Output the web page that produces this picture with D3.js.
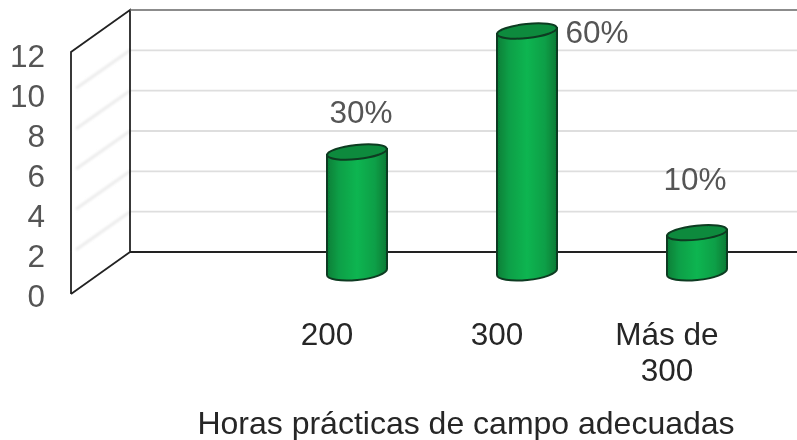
<!DOCTYPE html>
<html><head><meta charset="utf-8">
<script src="https://cdn.jsdelivr.net/npm/d3@7"></script>
<style>html,body{margin:0;padding:0;background:#fff}svg{display:block}text{font-family:"Liberation Sans",Arial,sans-serif}</style>
</head><body><svg id="c" width="797" height="440"></svg>
<script>
const categories = ["200","300","Más de|300"];
const values = [6,12,2];
const percentLabels = ["30%","60%","10%"];
const yTicks = [0,2,4,6,8,10,12];
const axisTitle = "Horas prácticas de campo adecuadas";

const svg = d3.select("#c");
const depthX = 59, depthY = -42;
const y = d3.scaleLinear().domain([0,12]).range([294,52]);
const tickY = d3.scaleLinear().domain([0,12]).range([307,67]);
const x = d3.scalePoint().domain(categories).range([357,697]);
const barW = 60, midY = -21, ry = 8;

const defs = svg.append("defs");
const g = defs.append("linearGradient").attr("id","cyl");
[[0,"#067f37"],[0.2,"#0a9f47"],[0.5,"#0bb551"],[0.8,"#0a9f47"],[1,"#067a35"]].forEach(s=>g.append("stop").attr("offset",s[0]).attr("stop-color",s[1]));
const blur = defs.append("filter").attr("id","soft").attr("x","-5%").attr("y","-5%").attr("width","110%").attr("height","110%");
blur.append("feGaussianBlur").attr("stdDeviation",0.45);
const blur2 = defs.append("filter").attr("id","softer").attr("filterUnits","userSpaceOnUse").attr("x",0).attr("y",0).attr("width",797).attr("height",440);
blur2.append("feGaussianBlur").attr("stdDeviation",1.1);

const root = svg.append("g").attr("filter","url(#soft)");
const grid = root.append("g");
const diag = root.append("g").attr("filter","url(#softer)");
yTicks.slice(1,-1).forEach(t=>{
  diag.append("line").attr("x1",76).attr("y1",y(t)-4).attr("x2",71+depthX).attr("y2",y(t)+depthY)
    .attr("stroke","#ececec").attr("stroke-width",3);
  grid.append("line").attr("x1",71+depthX).attr("y1",y(t)+depthY).attr("x2",797).attr("y2",y(t)+depthY)
    .attr("stroke","#dedede").attr("stroke-width",1.8);
});
const dark = "#222";
root.append("path").attr("fill","none").attr("stroke",dark).attr("stroke-width",1.8)
  .attr("d",`M${71},${y(0)}L${71},${y(12)}L${71+depthX},${y(12)+depthY}L${71+depthX},${y(0)+depthY}L${71},${y(0)}`);
root.append("line").attr("x1",71+depthX).attr("y1",y(0)+depthY).attr("x2",797).attr("y2",y(0)+depthY).attr("stroke",dark).attr("stroke-width",1.8);
root.append("line").attr("x1",71+depthX).attr("y1",y(12)+depthY).attr("x2",797).attr("y2",y(12)+depthY).attr("stroke","#666").attr("stroke-width",1.3);

const bars = root.selectAll("g.bar").data(categories).join("g").attr("class","bar");
bars.each(function(c,i){
  const s = d3.select(this), cx = x(c), l = cx-barW/2, r = cx+barW/2;
  const top = y(values[i])+midY, base = y(0)+midY;
  const tilt = 3;
  s.append("path").attr("fill","url(#cyl)").attr("stroke","#0f3b20").attr("stroke-width",2)
   .attr("d",`M${l},${top+tilt}L${l},${base+tilt-1}A${barW/2},${ry} -6 0 0 ${r},${base-tilt-1}L${r},${top-tilt}Z`);
  s.append("ellipse").attr("cx",cx).attr("cy",top).attr("rx",barW/2).attr("ry",ry-1)
   .attr("transform",`rotate(-6 ${cx} ${top})`)
   .attr("fill","#078a3d").attr("stroke","#0f3b20").attr("stroke-width",2);
});

const fs = 31.5;
const txt = root.append("g").attr("fill","#555");
txt.selectAll("text.yt").data(yTicks).join("text").attr("class","yt")
  .attr("x",45).attr("y",d=>tickY(d)).attr("text-anchor","end").attr("font-size",fs).text(d=>d);
const labelY = [123,43,190], labelX = [361,597,695];
txt.selectAll("text.pct").data(percentLabels).join("text").attr("class","pct")
  .attr("x",(d,i)=>labelX[i]).attr("y",(d,i)=>labelY[i]).attr("text-anchor","middle").attr("font-size",fs).text(d=>d);
const catText = root.append("g").attr("fill","#262626");
categories.forEach(c=>{
  c.split("|").forEach((line,j)=>{
    catText.append("text").attr("x",x(c)-30).attr("y",345+j*36)
     .attr("text-anchor","middle").attr("font-size",fs).text(line);
  });
});
catText.append("text").attr("x",466).attr("y",434).attr("text-anchor","middle").attr("font-size",32).text(axisTitle);
</script></body></html>
